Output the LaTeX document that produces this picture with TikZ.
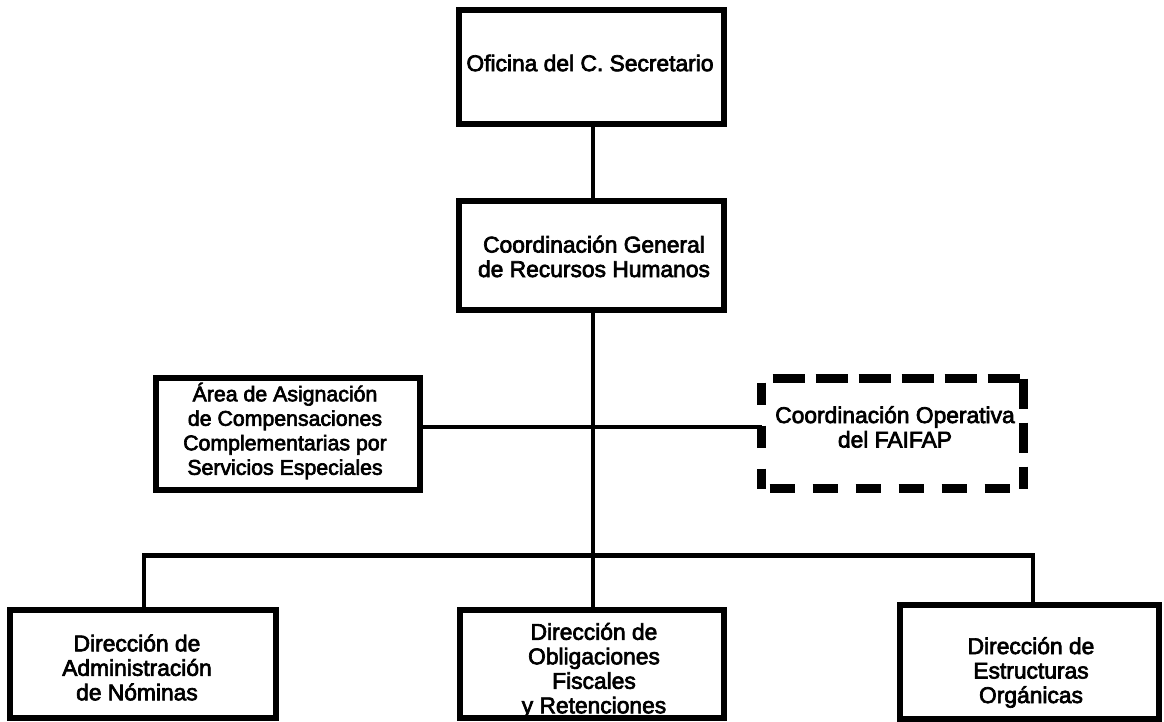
\documentclass[tikz,border=0pt]{standalone}
\usepackage{fontspec}
\setmainfont{Liberation Sans}
\newfontfamily\heavyfont{Liberation Sans}[RawFeature={embolden=3}]
\usetikzlibrary{calc}
\begin{document}
\begin{tikzpicture}[x=1pt,y=-1pt,
  box/.style={draw=black, line width=6pt, rectangle, inner sep=0pt},
  dbox/.style={draw=none, rectangle, inner sep=0pt, outer sep=0pt},
  dside/.style={line width=8.5pt, draw=black},
  conn/.style={line width=4.5pt, draw=black, line join=miter},
  txt/.style={align=center, inner sep=0pt, font=\heavyfont\fontsize{22.8pt}{24.5pt}\selectfont},
  txts/.style={align=center, inner sep=0pt, font=\heavyfont\fontsize{21.3pt}{24.5pt}\selectfont}]
\useasboundingbox[fill=white] (0,0) rectangle (1164,722);

% boxes
\node[box, minimum width=265pt, minimum height=114pt] (b1) at (591.5,67) {};
\node[box, minimum width=265pt, minimum height=108pt] (b2) at (591.5,255.5) {};
\node[box, minimum width=264.5pt, minimum height=112pt] (b3) at (287.75,434) {};
\node[dbox, minimum width=262pt, minimum height=110pt] (b4) at (892.5,433.5) {};
\node[box, minimum width=266pt, minimum height=108pt] (b5) at (143,664) {};
\node[box, minimum width=264pt, minimum height=108pt] (b6) at (592,664) {};
\node[box, minimum width=259pt, minimum height=114pt] (b7) at (1029.5,662) {};

% dashed sides of the FAIFAP box
\draw[dside, dash pattern=on 32pt off 11pt, dash phase=32pt] (b4.north west) -- (b4.north east);
\draw[dside, dash pattern=on 22pt off 21pt, dash phase=39pt] (b4.north west) -- (b4.south west);
\draw[dside, dash pattern=on 25pt off 18pt, dash phase=35pt] (b4.south west) -- (b4.south east);
\draw[dside, dash pattern=on 30pt off 14pt] (b4.north east) -- (b4.south east);

% texts
\node[txt] (t1) at (590,63) {Oficina del C. Secretario};
\node[txt] (t2) at (594,256.5) {Coordinación General\\de Recursos Humanos};
\node[txts] (t3) at (285,431) {Área de Asignación\\de Compensaciones\\Complementarias por\\Servicios Especiales};
\node[txt] (t4) at (895,427) {Coordinación Operativa\\del FAIFAP};
\node[txt] (t5) at (137,667.5) {Dirección de\\Administración\\de Nóminas};
\node[txt] (t6) at (594,670.5) {Dirección de\\Obligaciones\\Fiscales\\y Retenciones};
\node[txt] (t7) at (1031,672.5) {Dirección de\\Estructuras\\Orgánicas};

% connectors
\coordinate (trunk) at (593,0);
\coordinate (hl) at (593,427);
\coordinate (busL) at (144,555.5);
\coordinate (busR) at (1033,555.5);
\draw[conn] (b1.south -| trunk) -- (b2.north -| trunk);
\draw[conn] (b2.south -| trunk) -- (b6.north -| trunk);
\draw[conn] (b3.east |- hl) -- (b4.west |- hl);
\draw[conn] (b5.north -| busL) -- (busL) -- (busR) -- (b7.north -| busR);
\end{tikzpicture}
\end{document}
